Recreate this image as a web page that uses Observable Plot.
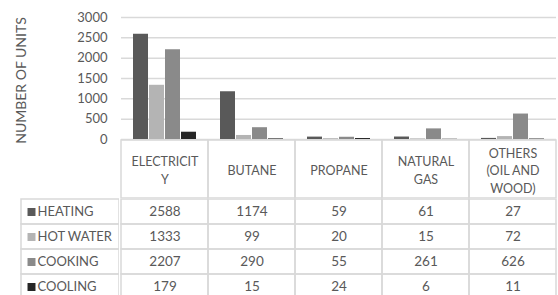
<!DOCTYPE html>
<html>
<head>
<meta charset="utf-8">
<script src="https://cdn.jsdelivr.net/npm/d3@7"></script>
<script src="https://cdn.jsdelivr.net/npm/@observablehq/plot@0.6"></script>
<style>
  html, body { margin: 0; padding: 0; background: #fff; overflow: hidden; width: 558px; height: 295px; }
  #wrap { width: 558px; font-family: Lato, "Open Sans", sans-serif; }
  .row { display: flex; }
  svg { display: block; }
</style>
</head>
<body>
<div id="wrap"></div>
<script>
const categories = ["ELECTRICITY", "BUTANE", "PROPANE", "NATURAL GAS", "OTHERS (OIL AND WOOD)"];
const headerLabels = ["ELECTRICIT\nY", "BUTANE", "PROPANE", "NATURAL\nGAS", "OTHERS\n(OIL AND\nWOOD)"];
const series = ["HEATING", "HOT WATER", "COOKING", "COOLING"];
const heating = [2588, 1174, 59, 61, 27];
const hotWater = [1333, 99, 20, 15, 72];
const cooking = [2207, 290, 55, 261, 626];
const cooling = [179, 15, 24, 6, 11];
const colors = ["#595959", "#b4b4b4", "#8a8a8a", "#262626"];
const yTicks = [0, 500, 1000, 1500, 2000, 2500, 3000];
const yLabel = "NUMBER OF UNITS";

const seriesValues = [heating, hotWater, cooking, cooling];
const data = [];
series.forEach((s, si) => categories.forEach((c, ci) => data.push({series: s, category: c, value: seriesValues[si][ci]})));

const textColor = "#595959";
const gridColor = "#d9d9d9";
const font = "Lato, 'Open Sans', sans-serif";

const wrap = document.getElementById("wrap");

// Chart
const chart = Plot.plot({
  width: 558, height: 140,
  marginLeft: 119, marginRight: 1, marginTop: 17, marginBottom: 1,
  style: {fontFamily: font, fontSize: "13px", color: textColor, background: "white", overflow: "visible"},
  fx: {domain: categories, padding: 0, axis: null},
  x: {domain: series, paddingInner: 0.04, paddingOuter: 0.72, axis: null},
  y: {domain: [0, 3000], axis: null},
  color: {domain: series, range: colors},
  marks: [
    Plot.gridY(yTicks, {stroke: gridColor, strokeOpacity: 1, strokeWidth: 1.5}),
    Plot.barY(data, {fx: "category", x: "series", y: "value", fill: "series"}),
    Plot.axisY(yTicks, {tickSize: 0, tickPadding: 14, fill: textColor, fontSize: 13, tickFormat: d3.format("d"), label: null}),
    Plot.text([yLabel], {frameAnchor: "left", textAnchor: "middle", dx: -100, dy: 2, rotate: -90, text: d => d, fill: textColor, fontSize: 14, facetAnchor: "left"})
  ]
});
wrap.appendChild(chart);

// Header row
const header = Plot.plot({
  width: 558, height: 58,
  marginLeft: 119, marginRight: 1, marginTop: 0, marginBottom: 0,
  style: {fontFamily: font, fontSize: "13px", color: textColor, background: "white", overflow: "visible"},
  x: {domain: categories, padding: 0, axis: null},
  marks: [
    Plot.cell(categories, {x: d => d, fill: "none", stroke: gridColor, strokeWidth: 1.5}),
    Plot.text(categories, {x: d => d, text: (d, i) => headerLabels[i], fill: textColor, lineHeight: 1.4, fontSize: 12.5})
  ]
});
wrap.appendChild(header);

// Table rows
const row = document.createElement("div");
row.className = "row";
wrap.appendChild(row);

const labels = Plot.plot({
  width: 119, height: 101,
  marginLeft: 21, marginRight: 0, marginTop: 0, marginBottom: 0,
  style: {fontFamily: font, fontSize: "13px", color: textColor, background: "white", overflow: "visible"},
  x: {domain: ["label"], padding: 0, axis: null},
  y: {domain: series, padding: 0, axis: null},
  color: {domain: series, range: colors},
  marks: [
    Plot.cell(series, {x: () => "label", y: d => d, fill: "none", stroke: gridColor, strokeWidth: 1.5}),
    Plot.dot(series, {y: d => d, frameAnchor: "left", dx: 10, symbol: "square", r: 4.5, fill: d => d, stroke: null}),
    Plot.text(series, {y: d => d, frameAnchor: "left", dx: 16, textAnchor: "start", text: d => d, fill: textColor, fontSize: 13})
  ]
});
row.appendChild(labels);

const table = Plot.plot({
  width: 439, height: 101,
  marginLeft: 0, marginRight: 1, marginTop: 0, marginBottom: 0,
  style: {fontFamily: font, fontSize: "13px", color: textColor, background: "white", overflow: "visible"},
  x: {domain: categories, padding: 0, axis: null},
  y: {domain: series, padding: 0, axis: null},
  marks: [
    Plot.cell(data, {x: "category", y: "series", fill: "none", stroke: gridColor, strokeWidth: 1.5}),
    Plot.text(data, {x: "category", y: "series", text: d => String(d.value), fill: textColor, fontSize: 13.5})
  ]
});
row.appendChild(table);
</script>
</body>
</html>
